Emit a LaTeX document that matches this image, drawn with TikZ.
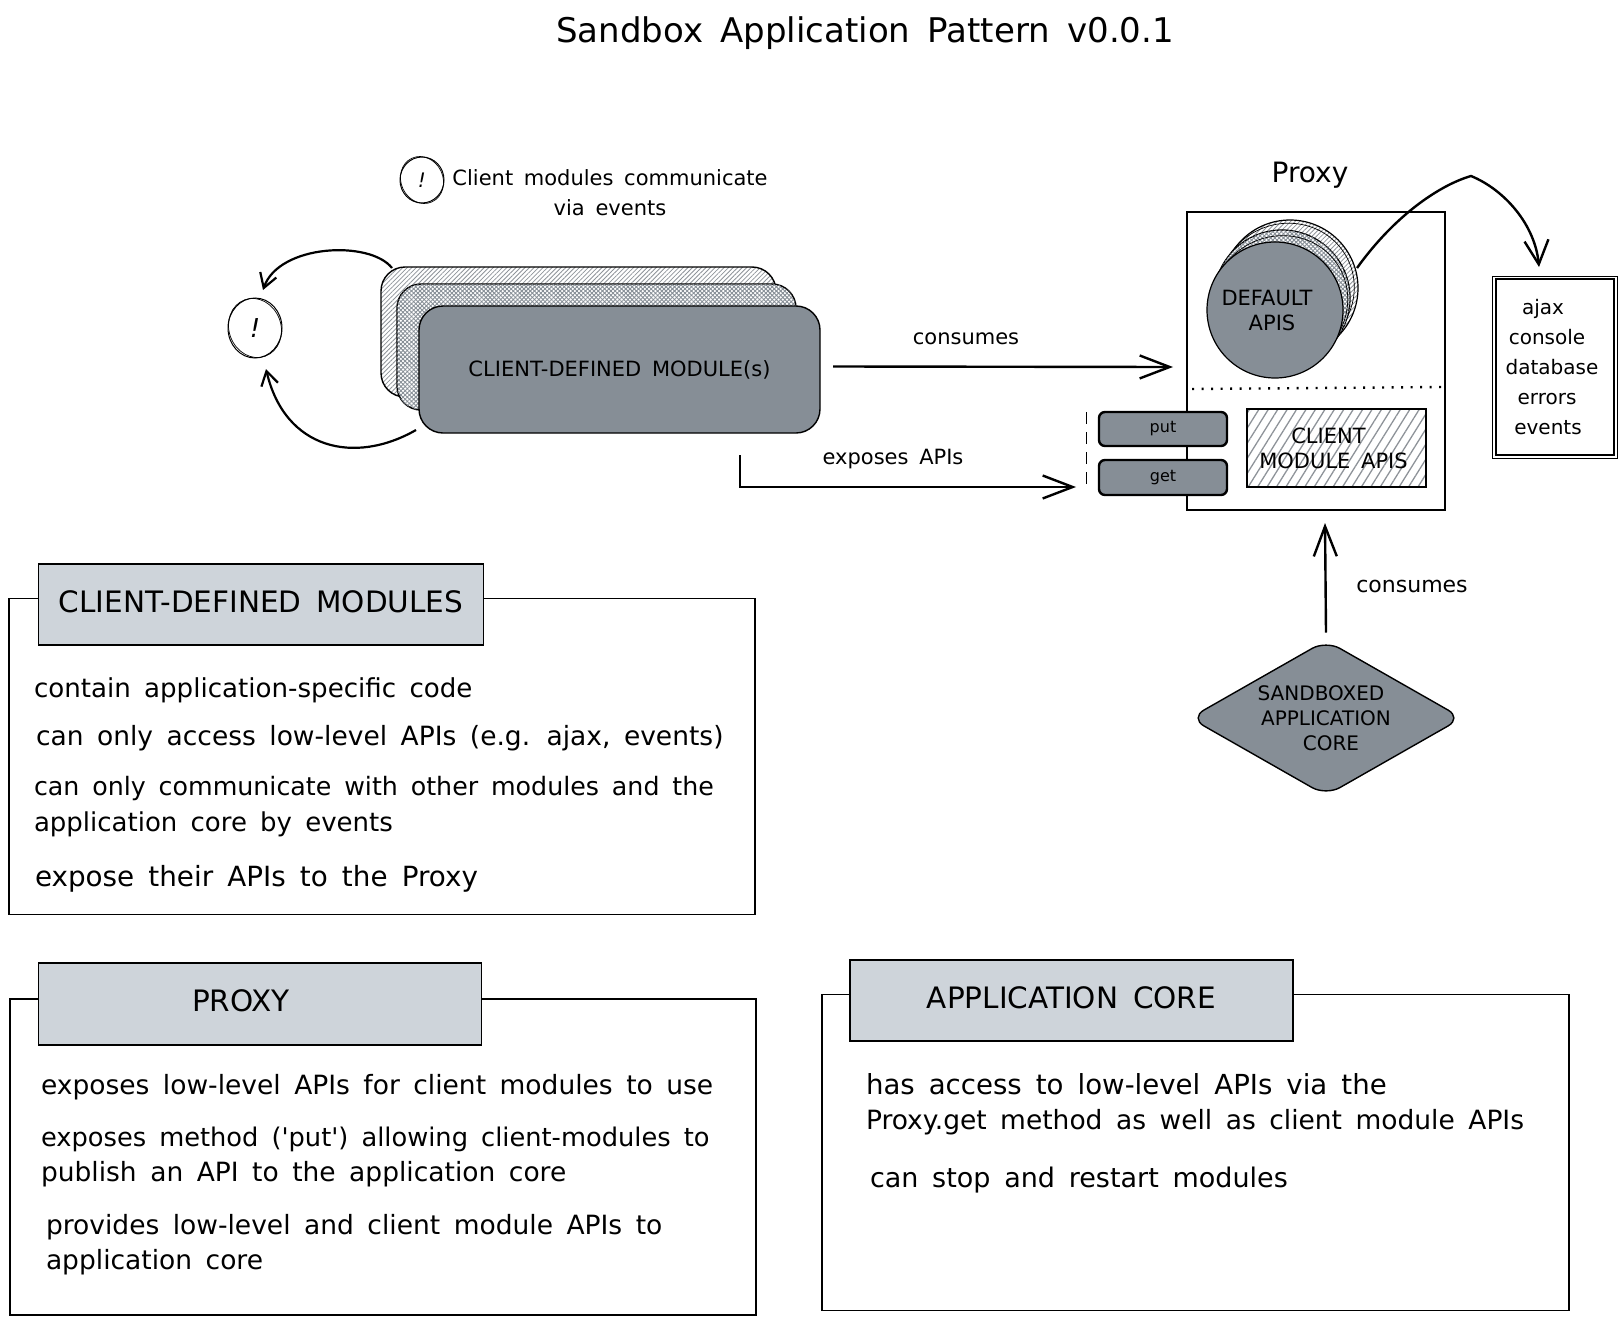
\documentclass[tikz,border=0pt]{standalone}
\usepackage{fontspec}
\setmainfont[WordSpace=1.6]{DejaVu Sans}
\usetikzlibrary{shapes,patterns.meta,arrows.meta}
\definecolor{slab}{HTML}{868E96}
\definecolor{headfill}{HTML}{CED4DA}
\definecolor{hatchline}{HTML}{8E9399}

\begin{document}
\begin{tikzpicture}[x=1pt,y=-1pt]
    \tikzstyle{every node}=[outer sep=0pt,inner sep=0pt]
    \tikzstyle{module}=[rectangle,draw,line width=1.4pt,rounded corners=24pt]
    \tikzstyle{stackcircle}=[circle,draw,line width=1.2pt,minimum size=136pt]
    \tikzstyle{scribble}=[line width=.7pt]
    \tikzstyle{panel}=[rectangle,draw,line width=1.3pt]
    \tikzstyle{header}=[rectangle,draw,line width=1.3pt,fill=headfill,text depth=6pt,font=\fontsize{29.5}{32}\selectfont]
    \tikzstyle{body}=[anchor=base west,font=\fontsize{26.5}{36}\selectfont,align=left]
    \tikzstyle{tag}=[font=\fontsize{21}{30}\selectfont,align=center]
    \tikzstyle{button}=[rectangle,draw,line width=2.4pt,rounded corners=6pt,fill=slab,minimum width=128pt,font=\fontsize{16}{18}\selectfont]
    \tikzstyle{flow}=[line width=2.4pt,-{Straight Barb[length=30pt,width=23pt]}]
    \tikzstyle{curve}=[line width=2.2pt,-{Straight Barb[length=14pt,width=17pt]}]
    \useasboundingbox (0,0) rectangle (1622,1322);

    \node[font=\fontsize{34}{38}\selectfont] (title) at (865,33) {Sandbox Application Pattern v0.0.1};

    % client modules
    \node[ellipse,draw,line width=1pt,minimum width=44pt,minimum height=46pt] (noteMark) at (422,180) {\fontsize{20}{22}\selectfont\textit{!}};
    \draw[scribble] (422,180) ellipse [x radius=21,y radius=24,rotate=25];
    \node[tag] (noteText) at (610,193) {Client modules communicate\\via events};
    \node[module,minimum width=395pt,minimum height=130pt,preaction={fill=white},
      pattern={Lines[angle=45,distance=3.2pt,line width=.8pt]},pattern color=hatchline] (moduleBack) at (578.5,332) {};
    \node[module,minimum width=399pt,minimum height=126pt,preaction={fill=white},
      pattern={Lines[angle=45,distance=3pt,line width=.9pt]},pattern color=slab,
      postaction={pattern={Lines[angle=-45,distance=3pt,line width=.9pt]},pattern color=slab}] (moduleMiddle) at (596.5,347) {};
    \node[module,fill=slab,minimum width=401pt,minimum height=127pt,font=\fontsize{21}{24}\selectfont] (moduleFront) at (619.5,369.5) {CLIENT-DEFINED MODULE(s)};
    \node[ellipse,draw,line width=1pt,minimum width=54pt,minimum height=60pt] (eventMark) at (255,328) {\fontsize{26}{28}\selectfont\textit{!}};
    \draw[scribble] (255,328) ellipse [x radius=26,y radius=30,rotate=20];
    \draw[curve] ([shift={(11,1)}]moduleBack.north west) .. controls (370,240) and (279,244) .. ([shift={(8,-8)}]eventMark.north);
    \draw[curve] ([shift={(-3,-3)}]moduleFront.south west) .. controls (355,465) and (285,450) .. ([shift={(11,11)}]eventMark.south);

    % proxy
    \node[font=\fontsize{28}{32}\selectfont] (proxyTitle) at (1310,175) {Proxy};
    \node[rectangle,draw,line width=2.5pt,minimum width=258pt,minimum height=298pt] (proxy) at (1316,361) {};
    \node[stackcircle,preaction={fill=white},pattern={Lines[angle=45,distance=3.2pt,line width=.8pt]},pattern color=hatchline] (apiBack) at (1290,288) {};
    \draw[scribble] (1286,290) ellipse [x radius=69,y radius=66,rotate=30];
    \node[stackcircle,preaction={fill=white},pattern={Lines[angle=45,distance=3pt,line width=.9pt]},pattern color=slab,
      postaction={pattern={Lines[angle=-45,distance=3pt,line width=.9pt]},pattern color=slab}] (apiMiddle) at (1282,298) {};
    \draw[scribble] (1279,303) ellipse [x radius=70,y radius=66,rotate=35];
    \node[stackcircle,fill=slab,align=center,font=\fontsize{21}{25}\selectfont] (apiFront) at (1275,310) {DEFAULT\kern16pt\\APIS\kern6pt};
    \coordinate (splitLeft) at (1192,389);
    \coordinate (splitRight) at (1445,387);
    \draw[line width=2.4pt,dash pattern=on 2pt off 7.5pt] (splitLeft) -- (splitRight);
    \node[button,minimum height=34pt] (putBox) at (1163,429) {put};
    \node[button,minimum height=35pt] (getBox) at (1163,477.5) {get};
    \coordinate (dashTop) at (1086.5,412);
    \coordinate (dashBottom) at (1086.5,488);
    \draw[line width=1pt,dash pattern=on 12pt off 8pt] (dashTop) -- (dashBottom);
    \node[rectangle,draw,line width=2.5pt,minimum width=179pt,minimum height=78pt,align=center,font=\fontsize{21}{25}\selectfont,
      pattern={Lines[angle=58,distance=8pt,line width=1.3pt]},pattern color=hatchline] (clientApis) at (1336.5,448) {CLIENT\kern16pt\\MODULE APIS\kern6pt};
    \node[rectangle,draw,line width=1.1pt,minimum width=118pt,minimum height=176pt,align=center,font=\fontsize{20}{30}\selectfont] (listBox) at (1555,367) {ajax\kern24pt\\console\kern16pt\\database\kern6pt\\errors\kern16pt\\events\kern14pt};
    \draw[scribble] ([shift={(-4,-3)}]listBox.north west) rectangle ([shift={(3,3)}]listBox.south east);
    \draw[flow,-{Straight Barb[length=24pt,width=24pt]}] ([shift={(-1,-20)}]apiBack.east) .. controls (1395,215) and (1440,185) .. (1471,176) .. controls (1505,190) and (1535,225) .. ([shift={(-16,-12)}]listBox.north);

    % application core
    \node[diamond,draw,line width=1.4pt,fill=slab,rounded corners=16pt,aspect=1.72,minimum width=272pt,minimum height=155pt,align=center,font=\fontsize{20}{25}\selectfont] (core) at (1326,718) {SANDBOXED\kern10pt\\APPLICATION\\\kern10pt CORE};

    % connectors
    \draw[flow] ([shift={(13,-3)}]moduleFront.east) -- ([shift={(-14,6)}]proxy.west);
    \node[tag] (consumesTop) at (966,339) {consumes};
    \coordinate (exposeStart) at (740,455);
    \coordinate (exposeEnd) at (1076,487);
    \draw[flow] (exposeStart) |- (exposeEnd);
    \node[tag] (exposesLabel) at (893,459) {exposes APIs};
    \draw[flow] ([shift={(0,-8)}]core.north) -- ([shift={(9,13)}]proxy.south);
    \node[tag,font=\fontsize{22}{30}\selectfont] (consumesSide) at (1412,586) {consumes};

    % client-defined modules panel
    \node[panel,minimum width=746pt,minimum height=316pt] (modulesPanel) at (382,756.5) {};
    \node[header,minimum width=445pt,minimum height=81pt] (modulesHead) at (261,604.5) {CLIENT-DEFINED MODULES};
    \node[body,font=\fontsize{26.1}{36}\selectfont] (modulesA) at (34,697) {contain application-specific code};
    \node[body] (modulesB) at (36,745) {can only access low-level APIs (e.g. ajax, events)};
    \node[body,font=\fontsize{25.3}{36}\selectfont] (modulesC) at (34,795) {can only communicate with other modules and the};
    \node[body,font=\fontsize{26}{36}\selectfont] (modulesD) at (34,831) {application core by events};
    \node[body,font=\fontsize{27.8}{36}\selectfont] (modulesE) at (35,886) {expose their APIs to the Proxy};

    % proxy panel
    \node[panel,minimum width=746pt,minimum height=316pt] (proxyPanel) at (383,1157) {};
    \node[header,minimum width=443pt,minimum height=82pt] (proxyHead) at (260,1004) {PROXY\kern38pt};
    \node[body] (proxyA) at (41,1094) {exposes low-level APIs for client modules to use};
    \node[body,font=\fontsize{25.7}{36}\selectfont] (proxyB) at (41,1146) {exposes method (\textquotesingle put\textquotesingle) allowing client-modules to};
    \node[body] (proxyC) at (41,1181) {publish an API to the application core};
    \node[body] (proxyD) at (46,1234) {provides low-level and client module APIs to};
    \node[body] (proxyE) at (46,1269) {application core};

    % application core panel
    \node[panel,minimum width=747pt,minimum height=316pt] (corePanel) at (1195.5,1152.5) {};
    \node[header,minimum width=443pt,minimum height=81pt] (coreHead) at (1071.5,1000.5) {APPLICATION CORE};
    \node[body,font=\fontsize{27.6}{36}\selectfont] (coreA) at (866,1094) {has access to low-level APIs via the};
    \node[body] (coreB) at (866,1129) {Proxy.get method as well as client module APIs};
    \node[body,font=\fontsize{27}{36}\selectfont] (coreC) at (870,1187) {can stop and restart modules};
  \end{tikzpicture}
\end{document}
